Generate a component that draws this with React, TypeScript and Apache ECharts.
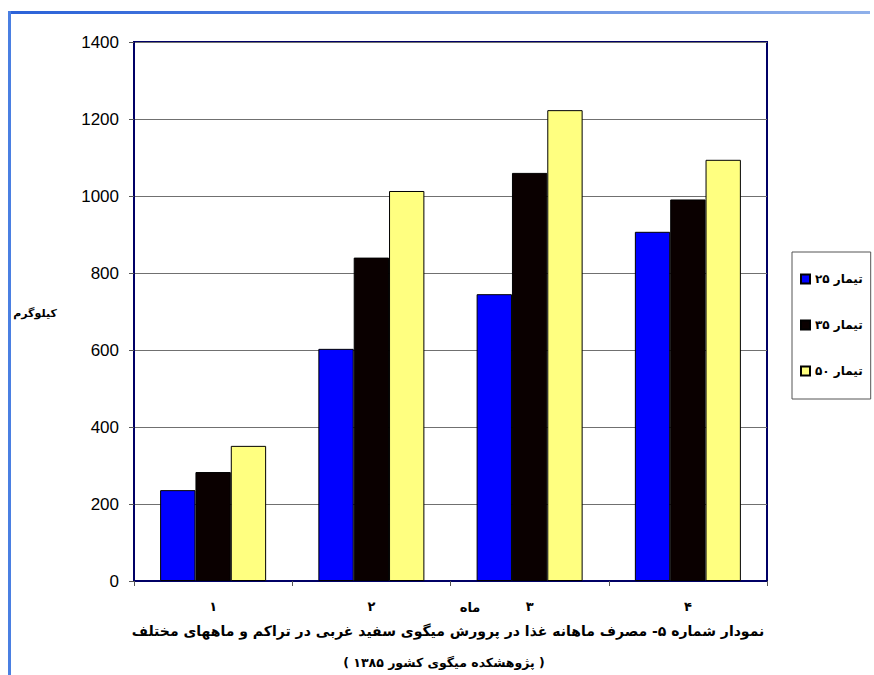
import React, { useEffect, useRef } from "react";
import * as echarts from "echarts";

// Months (x-axis categories) and feed consumption (kg) per stocking density
const months = ["۱", "۲", "۳", "۴"];
const seriesNames = ["تیمار ۲۵", "تیمار ۳۵", "تیمار ۵۰"];
const density25 = [236, 603, 745, 907];
const density35 = [283, 840, 1060, 991];
const density50 = [351, 1013, 1223, 1094];
const seriesColors = ["#0000ff", "#0a0000", "#ffff80"];

const yTicks = { min: 0, max: 1400, interval: 200 };

const chartTitle =
  "نمودار شماره ۵- مصرف ماهانه غذا در پرورش میگوی سفید غربی در تراکم و ماههای مختلف";
const chartSource = "( پژوهشکده میگوی کشور ۱۳۸۵ )";
const xName = "ماه";
const yName = "کیلوگرم";

const FA_FONT = "'DejaVu Sans', 'Noto Sans', sans-serif";
const NUM_FONT = "'Liberation Sans', Arial, sans-serif";
const NAVY = "#000066";

export default function App() {
  const ref = useRef<HTMLDivElement>(null);

  useEffect(() => {
    if (!ref.current) return;
    const chart = echarts.init(ref.current, null, { renderer: "svg" });
    const values = [density25, density35, density50];

    chart.setOption({
      animation: false,
      backgroundColor: "#ffffff",
      grid: {
        left: 134,
        right: 107,
        top: 42,
        bottom: 94,
        show: true,
        borderColor: NAVY,
        borderWidth: 2,
      },
      legend: {
        orient: "vertical",
        left: 792,
        top: 252,
        padding: [21, 8, 22, 8],
        itemGap: 34,
        itemWidth: 9,
        itemHeight: 9,
        borderColor: "#555555",
        borderWidth: 1,
        icon: "rect",
        textStyle: {
          fontFamily: FA_FONT,
          fontSize: 12,
          fontWeight: "bold",
          color: "#000",
        },
        data: seriesNames,
      },
      xAxis: {
        type: "category",
        data: months,
        boundaryGap: true,
        axisLine: { lineStyle: { color: NAVY, width: 2 } },
        axisTick: { show: true, length: 5, lineStyle: { color: "#555", width: 1 } },
        axisLabel: {
          margin: 19,
          fontFamily: FA_FONT,
          fontSize: 13,
          fontWeight: "bold",
          color: "#000",
        },
      },
      yAxis: {
        type: "value",
        min: yTicks.min,
        max: yTicks.max,
        interval: yTicks.interval,
        axisLine: { show: true, lineStyle: { color: NAVY, width: 2 } },
        axisTick: { show: true, length: 5, lineStyle: { color: "#555", width: 1 } },
        axisLabel: {
          margin: 15,
          fontFamily: NUM_FONT,
          fontSize: 17,
          color: "#000",
          formatter: (v: number) => String(v),
        },
        splitLine: { show: true, lineStyle: { color: "#707070", width: 1 } },
      },
      series: seriesNames.map((name, i) => ({
        name,
        type: "bar",
        data: values[i],
        barGap: "0%",
        barCategoryGap: "33%",
        itemStyle: {
          color: seriesColors[i],
          borderColor: "#000",
          borderWidth: 1,
        },
      })),
      graphic: [
        {
          type: "rect",
          shape: { x: 8, y: 11, width: 862, height: 3 },
          style: {
            fill: new echarts.graphic.LinearGradient(0, 0, 1, 0, [
              { offset: 0, color: "#2b62d8" },
              { offset: 1, color: "#8fb0ea" },
            ]),
          },
          silent: true,
        },
        {
          type: "rect",
          shape: { x: 8, y: 11, width: 3, height: 664 },
          style: { fill: "#4a7fe2" },
          silent: true,
        },
        {
          type: "text",
          x: 35,
          y: 313,
          style: {
            text: yName,
            fontFamily: FA_FONT,
            fontSize: 11,
            fontWeight: "bold",
            fill: "#000",
            align: "center",
            verticalAlign: "middle",
          },
        },
        {
          type: "text",
          x: 470,
          y: 607,
          style: {
            text: xName,
            fontFamily: FA_FONT,
            fontSize: 13,
            fontWeight: "bold",
            fill: "#000",
            align: "center",
            verticalAlign: "middle",
          },
        },
        {
          type: "text",
          x: 448,
          y: 631,
          style: {
            text: chartTitle,
            fontFamily: FA_FONT,
            fontSize: 14,
            fontWeight: "bold",
            fill: "#000",
            align: "center",
            verticalAlign: "middle",
          },
        },
        {
          type: "text",
          x: 444,
          y: 662,
          style: {
            text: chartSource,
            fontFamily: FA_FONT,
            fontSize: 12.5,
            fontWeight: "bold",
            fill: "#000",
            align: "center",
            verticalAlign: "middle",
          },
        },
      ],
    });

    return () => chart.dispose();
  }, []);

  return (
    <div
      ref={ref}
      style={{ position: "fixed", left: 0, top: 0, width: 874, height: 675 }}
    />
  );
}
